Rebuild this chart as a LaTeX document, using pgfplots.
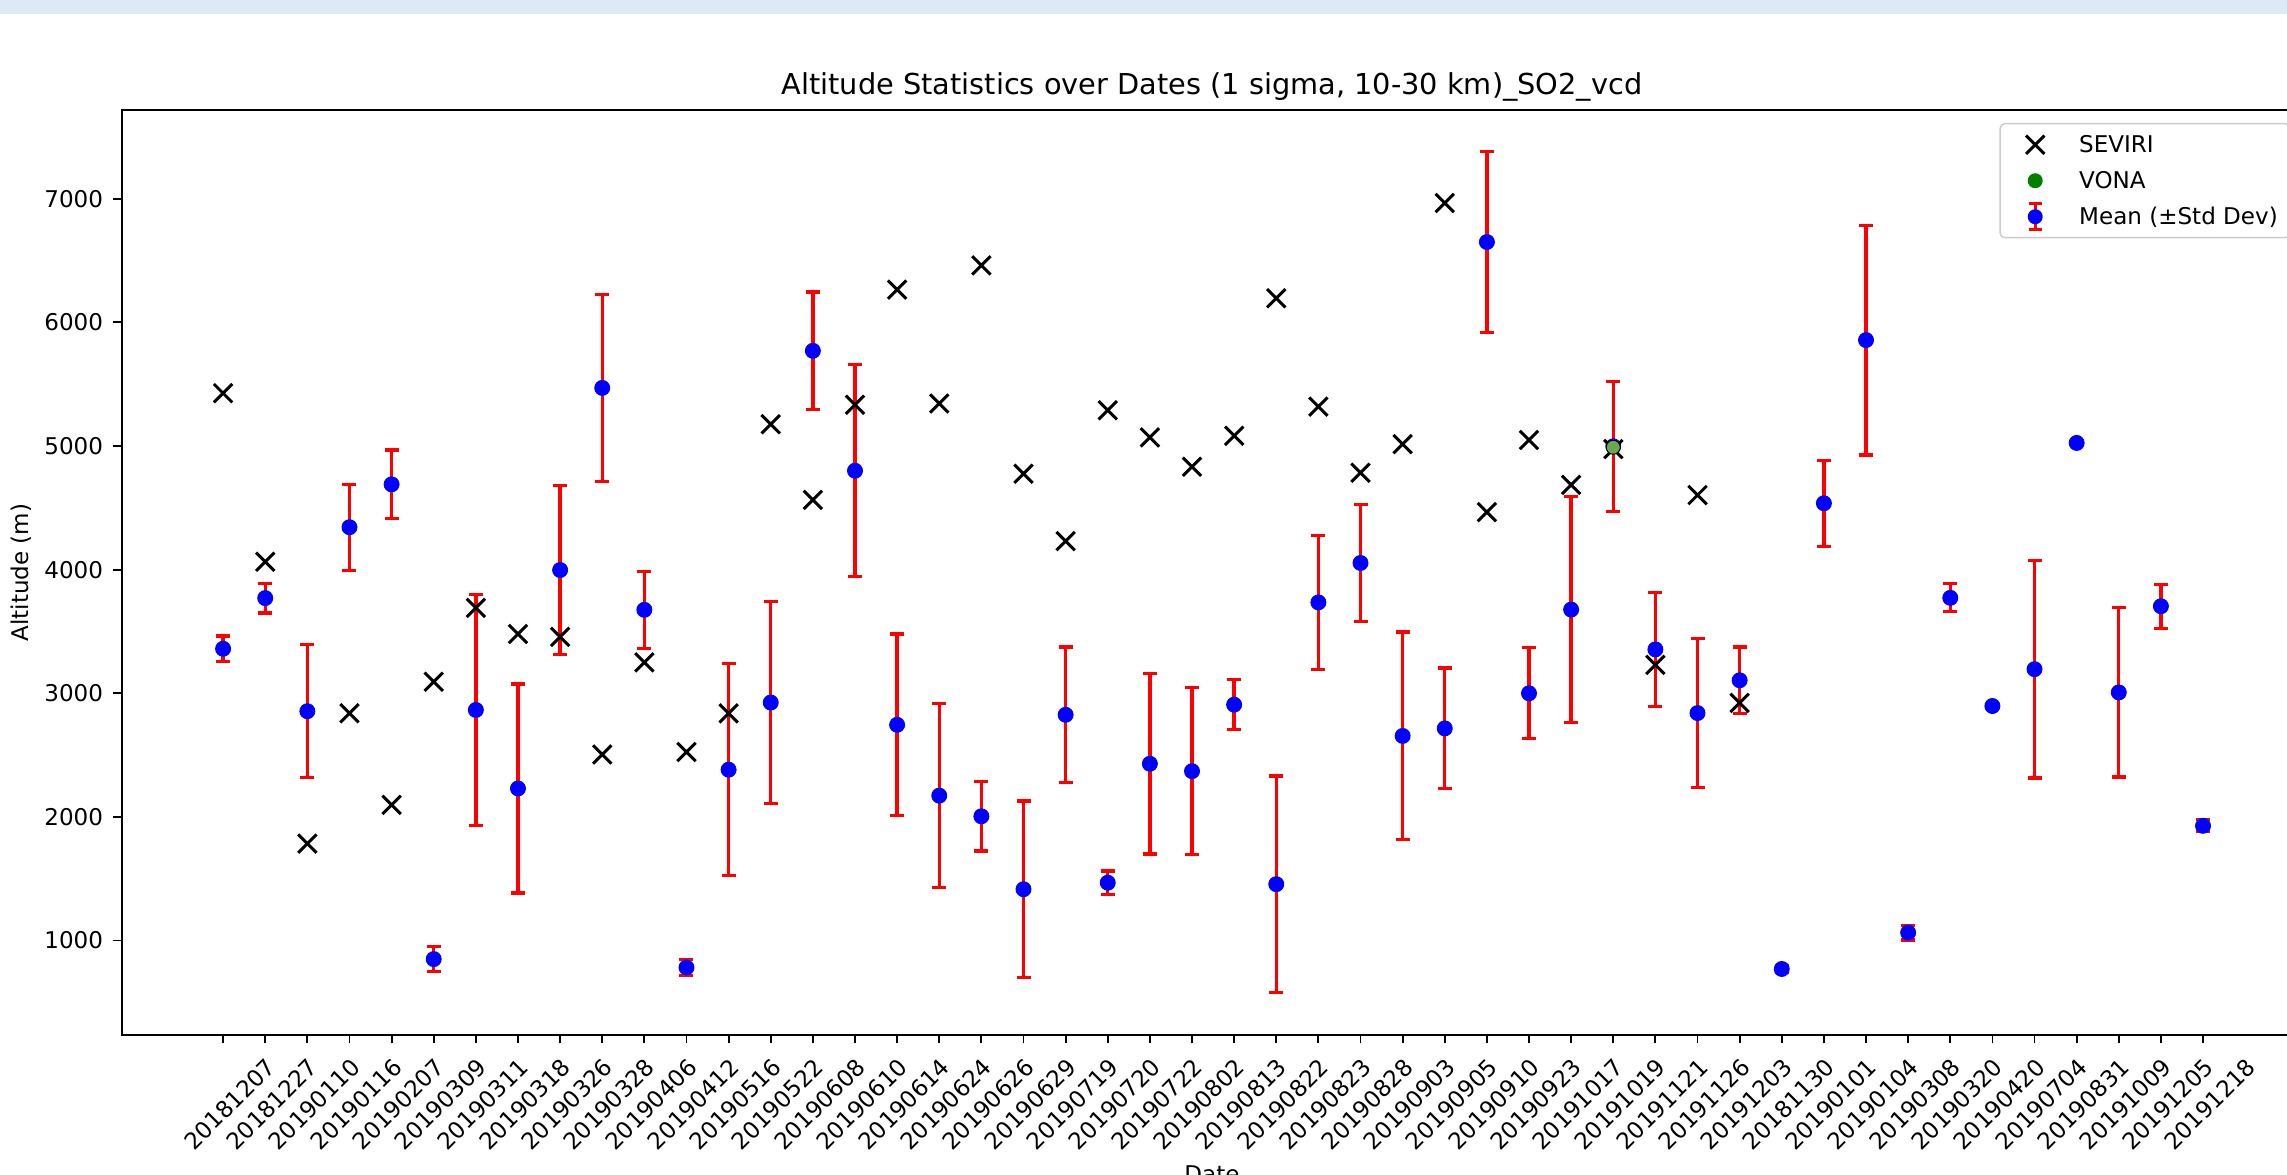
\documentclass[border=0pt]{standalone}
\usepackage{pgfplots}
\pgfplotsset{compat=1.18}
\usepackage{pgfplotstable}
\usepackage{fontspec}
\setmainfont{DejaVu Sans}

% one pixel of the reference picture
\newdimen\pxu \pxu=0.434pt

\definecolor{bandblue}{RGB}{221,233,245}
\definecolor{mplgreen}{RGB}{0,128,0}
\definecolor{vonalight}{RGB}{106,168,79}
\definecolor{legendgray}{RGB}{204,204,204}

% x = date index, mean altitude, std dev
\pgfplotstableread{
x mean std
0 3360 103
1 3770 120
2 2855 537
3 4343 348
4 4690 277
5 850 103
6 2865 937
7 2230 845
8 3997 681
9 5470 755
10 3675 313
11 782 63
12 2382 857
13 2925 816
14 5770 475
15 4800 858
16 2745 735
17 2172 743
18 2005 281
19 1415 713
20 2826 549
21 1468 94
22 2430 730
23 2370 676
24 2908 203
25 1456 875
26 3735 544
27 4054 471
28 2655 840
29 2716 488
30 6650 732
31 3000 368
32 3677 914
33 4998 527
34 3355 463
35 2840 603
36 3105 270
37 770 30
38 4537 348
39 5857 929
40 1064 59
41 3772 113
42 2897 0
43 3195 880
44 5025 0
45 3007 684
46 3704 179
47 1928 49
}\meandata

\pgfplotstableread{
x alt
0 5427
1 4064
2 1784
3 2838
4 2098
5 3093
6 3691
7 3480
8 3456
9 2505
10 3250
11 2525
12 2838
13 5177
14 4564
15 5333
16 6265
17 5343
18 6461
19 4775
20 4230
21 5289
22 5069
23 4833
24 5083
25 6196
26 5319
27 4784
28 5015
29 6966
30 4466
31 5049
32 4686
33 4975
34 3230
35 4603
36 2922
}\sevdata

\begin{document}
\begin{tikzpicture}
\fill[bandblue] (0,1161\pxu) rectangle (2287\pxu,1175\pxu);
\begin{axis}[
    at={(122\pxu,140\pxu)}, anchor=south west,
    scale only axis, width=2180\pxu, height=925\pxu,
    xmin=-2.4, xmax=49.35, ymin=236, ymax=7718,
    xtick={0,...,47},
    xticklabels={20181207,20181227,20190110,20190116,20190207,20190309,20190311,20190318,
        20190326,20190328,20190406,20190412,20190516,20190522,20190608,20190610,
        20190614,20190624,20190626,20190629,20190719,20190720,20190722,20190802,
        20190813,20190822,20190823,20190828,20190903,20190905,20190910,20190923,
        20191017,20191019,20191121,20191126,20191203,20181130,20190101,20190104,
        20190308,20190320,20190420,20190704,20190831,20191009,20191205,20191218},
    ytick={1000,2000,...,7000},
    tick pos=left, tick align=outside, major tick length=8.5\pxu,
    tick style={black, line width=1.8\pxu},
    axis line style={black, line width=1.8\pxu},
    /pgf/number format/assume math mode=true,
    /pgf/number format/1000 sep={},
    scaled y ticks=false,
    every tick label/.append style={font=\fontsize{10}{12}\selectfont, inner sep=0pt},
    xticklabel style={xshift=42\pxu, yshift=-12.5\pxu, rotate=45, anchor=north east},
    yticklabel style={xshift=-10\pxu, anchor=east},
    title={Altitude Statistics over Dates (1 sigma, 10-30 km)\_SO2\_vcd},
    every axis title/.style={at={(axis description cs:0.5,1)}, anchor=base,
        yshift=15\pxu, font=\fontsize{12.5}{15}\selectfont},
    xlabel={Date},
    every axis x label/.style={at={(axis description cs:0.5,-0.159)}, anchor=base,
        font=\fontsize{10}{12}\selectfont},
    ylabel={Altitude (m)},
    every axis y label/.style={at={(axis description cs:-0.0431,0.5)}, rotate=90,
        anchor=base, font=\fontsize{10}{12}\selectfont},
    legend style={at={(axis description cs:1,1)}, anchor=north east,
        xshift=-11.5\pxu, yshift=-13\pxu,
        draw=legendgray, line width=1.5\pxu, rounded corners=4.5\pxu, fill=white,
        inner xsep=12\pxu, inner ysep=3\pxu, row sep=0pt, column sep=0pt,
        font=\fontsize{10}{12}\selectfont,
        nodes={inner sep=0pt, text height=25.4\pxu, text depth=10.6\pxu}},
    legend cell align=left,
]
\addlegendimage{legend image code/.code={
    \path[draw=none, fill=none] (0,-18\pxu) rectangle (67\pxu,18\pxu);
    \draw[black, line width=3\pxu, sharp corners]
        (13.8\pxu,-9.2\pxu) -- (32.2\pxu,9.2\pxu)
        (13.8\pxu,9.2\pxu) -- (32.2\pxu,-9.2\pxu);
}}
\addlegendentry{SEVIRI}
\addlegendimage{legend image code/.code={
    \path[draw=none, fill=none] (0,-18\pxu) rectangle (67\pxu,18\pxu);
    \fill[mplgreen, draw=none] (23\pxu,0) circle[radius=7.5\pxu];
}}
\addlegendentry{VONA}
\addlegendimage{legend image code/.code={
    \path[draw=none, fill=none] (0,-18\pxu) rectangle (67\pxu,18\pxu);
    \draw[red, line width=3.2\pxu, sharp corners]
        (23\pxu,-13\pxu) -- (23\pxu,13\pxu)
        (16.5\pxu,-13\pxu) -- (29.5\pxu,-13\pxu)
        (16.5\pxu,13\pxu) -- (29.5\pxu,13\pxu);
    \fill[blue, draw=none] (23\pxu,0) circle[radius=7.5\pxu];
}}
\addlegendentry{Mean (±Std Dev)}

% mean with std dev error bars
\addplot[forget plot, only marks, color=blue, mark=*, mark size=7.5\pxu,
    mark options={draw=none, fill=blue},
    error bars/.cd, y dir=both, y explicit,
    error bar style={red, line width=3.4\pxu},
    error mark options={rotate=90, red, line width=3.2\pxu, mark size=7\pxu}]
    table[x=x, y=mean, y error=std] {\meandata};

% SEVIRI
\addplot[forget plot, only marks, mark=x, mark size=13\pxu,
    mark options={black, line width=3\pxu}]
    table[x=x, y=alt] {\sevdata};

% VONA
\addplot[forget plot, only marks, mark=*, mark size=7\pxu,
    mark options={draw=none, fill=vonalight}]
    coordinates {(33,4990)};
\end{axis}
\pgfresetboundingbox
\path[use as bounding box] (0,0) rectangle (2287\pxu,1175\pxu);
\end{tikzpicture}
\end{document}
